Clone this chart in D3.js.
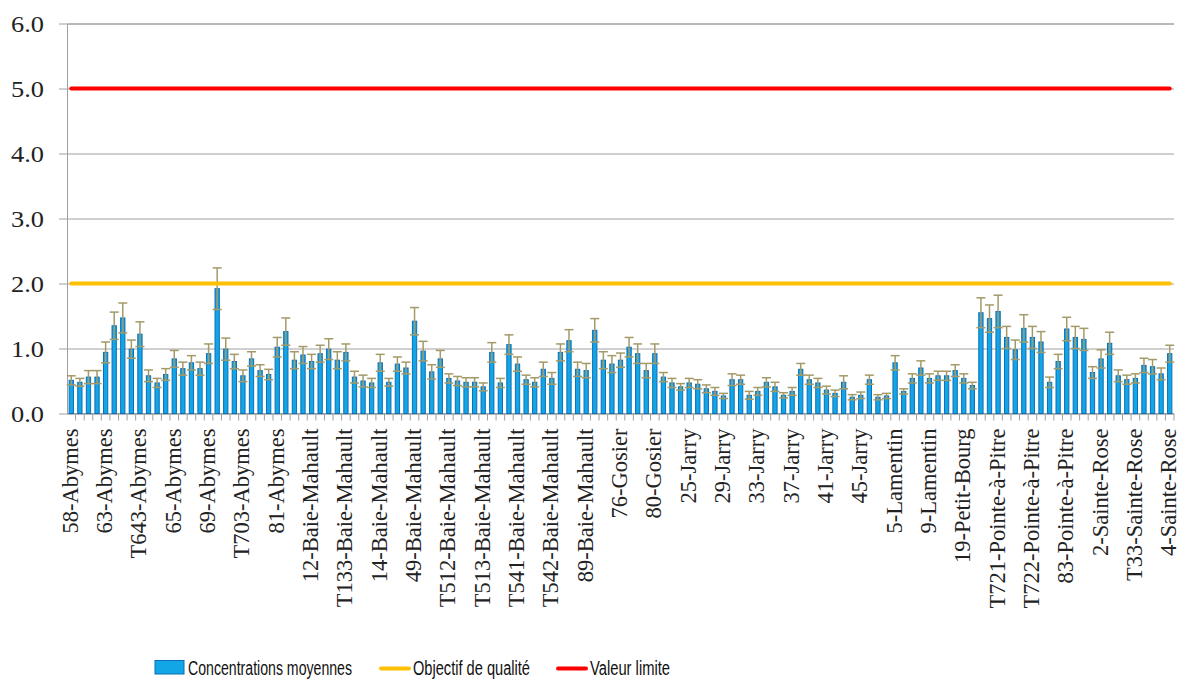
<!DOCTYPE html>
<html>
<head>
<meta charset="utf-8">
<script src="https://cdn.jsdelivr.net/npm/d3@7"></script>
<style>
  body { margin: 0; background: #fff; }
  svg { display: block; }
</style>
</head>
<body>
<div id="chart"></div>
<script>
// station names (only every 4th one is printed on the axis)
var categories = [
  "58-Abymes", "59-Abymes", "60-Abymes", "61-Abymes",
  "63-Abymes", "64-Abymes", "T641-Abymes", "T642-Abymes",
  "T643-Abymes", "T644-Abymes", "T645-Abymes", "T646-Abymes",
  "65-Abymes", "66-Abymes", "67-Abymes", "68-Abymes",
  "69-Abymes", "70-Abymes", "T701-Abymes", "T702-Abymes",
  "T703-Abymes", "T704-Abymes", "79-Abymes", "80-Abymes",
  "81-Abymes", "82-Abymes", "83-Abymes", "84-Abymes",
  "12-Baie-Mahault", "13-Baie-Mahault", "T131-Baie-Mahault", "T132-Baie-Mahault",
  "T133-Baie-Mahault", "T134-Baie-Mahault", "T135-Baie-Mahault", "T136-Baie-Mahault",
  "14-Baie-Mahault", "15-Baie-Mahault", "47-Baie-Mahault", "48-Baie-Mahault",
  "49-Baie-Mahault", "50-Baie-Mahault", "T510-Baie-Mahault", "T511-Baie-Mahault",
  "T512-Baie-Mahault", "51-Baie-Mahault", "52-Baie-Mahault", "53-Baie-Mahault",
  "T513-Baie-Mahault", "54-Baie-Mahault", "55-Baie-Mahault", "T540-Baie-Mahault",
  "T541-Baie-Mahault", "56-Baie-Mahault", "57-Baie-Mahault", "58-Baie-Mahault",
  "T542-Baie-Mahault", "T543-Baie-Mahault", "87-Baie-Mahault", "88-Baie-Mahault",
  "89-Baie-Mahault", "90-Baie-Mahault", "91-Baie-Mahault", "92-Baie-Mahault",
  "76-Gosier", "77-Gosier", "78-Gosier", "79-Gosier",
  "80-Gosier", "81-Gosier", "82-Gosier", "83-Gosier",
  "25-Jarry", "26-Jarry", "27-Jarry", "28-Jarry",
  "29-Jarry", "30-Jarry", "31-Jarry", "32-Jarry",
  "33-Jarry", "34-Jarry", "35-Jarry", "36-Jarry",
  "37-Jarry", "38-Jarry", "39-Jarry", "40-Jarry",
  "41-Jarry", "42-Jarry", "43-Jarry", "44-Jarry",
  "45-Jarry", "46-Jarry", "47-Jarry", "48-Jarry",
  "5-Lamentin", "6-Lamentin", "7-Lamentin", "8-Lamentin",
  "9-Lamentin", "10-Lamentin", "11-Lamentin", "12-Lamentin",
  "19-Petit-Bourg", "20-Petit-Bourg", "21-Petit-Bourg", "22-Petit-Bourg",
  "T721-Pointe-à-Pitre", "T7211-Pointe-à-Pitre", "T7212-Pointe-à-Pitre", "T7213-Pointe-à-Pitre",
  "T722-Pointe-à-Pitre", "T7221-Pointe-à-Pitre", "T7222-Pointe-à-Pitre", "T7223-Pointe-à-Pitre",
  "83-Pointe-à-Pitre", "84-Pointe-à-Pitre", "85-Pointe-à-Pitre", "86-Pointe-à-Pitre",
  "2-Sainte-Rose", "3-Sainte-Rose", "T31-Sainte-Rose", "T32-Sainte-Rose",
  "T33-Sainte-Rose", "T34-Sainte-Rose", "T35-Sainte-Rose", "T36-Sainte-Rose",
  "4-Sainte-Rose"
];

var concentrations = [
  0.51, 0.48, 0.56, 0.56, 0.94, 1.35, 1.47, 0.99, 1.22, 0.58, 0.47, 0.60, 0.84, 0.69, 0.78, 0.69, 0.92, 1.92, 0.99, 0.80, 0.58,
  0.84, 0.66, 0.60, 1.02, 1.26, 0.82, 0.90, 0.80, 0.92, 0.99, 0.82, 0.94, 0.56, 0.50, 0.47, 0.78, 0.48, 0.76, 0.70, 1.42, 0.96,
  0.64, 0.84, 0.54, 0.50, 0.48, 0.48, 0.41, 0.94, 0.47, 1.06, 0.76, 0.52, 0.48, 0.68, 0.54, 0.94, 1.12, 0.68, 0.66, 1.28, 0.82, 0.76,
  0.82, 1.02, 0.92, 0.66, 0.92, 0.56, 0.47, 0.41, 0.47, 0.45, 0.38, 0.34, 0.27, 0.52, 0.52, 0.28, 0.34, 0.48, 0.41, 0.28, 0.34,
  0.68, 0.52, 0.47, 0.36, 0.31, 0.48, 0.25, 0.28, 0.52, 0.25, 0.27, 0.78, 0.34, 0.54, 0.70, 0.54, 0.58, 0.58, 0.66, 0.54, 0.43,
  1.55, 1.46, 1.57, 1.17, 0.98, 1.31, 1.17, 1.10, 0.48, 0.80, 1.30, 1.17, 1.14, 0.63, 0.84, 1.08, 0.58, 0.52, 0.54, 0.74, 0.72, 0.61, 0.92
];

// half length of each error bar
var errors = [
  0.07, 0.06, 0.10, 0.10, 0.16, 0.21, 0.23, 0.14, 0.19, 0.09, 0.07, 0.09, 0.13, 0.10, 0.11, 0.10, 0.15, 0.32, 0.17, 0.11, 0.09,
  0.11, 0.09, 0.08, 0.15, 0.21, 0.13, 0.13, 0.11, 0.13, 0.16, 0.13, 0.13, 0.09, 0.09, 0.07, 0.13, 0.06, 0.11, 0.09, 0.21, 0.15,
  0.11, 0.13, 0.07, 0.07, 0.07, 0.07, 0.06, 0.15, 0.07, 0.15, 0.11, 0.07, 0.07, 0.11, 0.09, 0.13, 0.17, 0.11, 0.11, 0.18, 0.13, 0.13,
  0.11, 0.15, 0.15, 0.11, 0.15, 0.07, 0.07, 0.05, 0.07, 0.07, 0.06, 0.06, 0.04, 0.09, 0.07, 0.06, 0.06, 0.07, 0.07, 0.04, 0.06,
  0.09, 0.07, 0.07, 0.06, 0.05, 0.10, 0.04, 0.05, 0.07, 0.04, 0.04, 0.11, 0.04, 0.07, 0.11, 0.07, 0.07, 0.07, 0.09, 0.07, 0.05,
  0.23, 0.21, 0.25, 0.17, 0.15, 0.21, 0.17, 0.16, 0.08, 0.11, 0.18, 0.17, 0.17, 0.09, 0.14, 0.17, 0.09, 0.07, 0.07, 0.11, 0.11, 0.09, 0.13
];

var objectifQualite = 2.0;
var valeurLimite = 5.0;
var yTicks = [0, 1, 2, 3, 4, 5, 6];

function init() {
    var w = 1180;
    var h = 680;
    var left = 67, right = 1174, top = 23.5, bottom = 413.5;

    var svg = d3.select("#chart")
        .append("svg")
        .attr("width", w)
        .attr("height", h);

    var x = d3.scaleBand()
        .domain(categories)
        .range([left, right])
        .paddingInner(0.5)
        .paddingOuter(0.25);

    var y = d3.scaleLinear()
        .domain([0, 6])
        .range([bottom, top]);

    // gridlines + y axis
    var yAxis = d3.axisLeft(y)
        .tickValues(yTicks)
        .tickSize(-(right - left))
        .tickPadding(24)
        .tickFormat(d3.format(".1f"));

    var gy = svg.append("g")
        .attr("transform", "translate(" + left + ",0)")
        .call(yAxis);
    gy.select(".domain").attr("stroke", "#a0a0a0");
    gy.selectAll(".tick line")
        .attr("stroke", "#a0a0a0")
        .attr("x1", -8);
    gy.selectAll(".tick text")
        .attr("font-family", "'Liberation Serif', 'Times New Roman', serif")
        .attr("font-size", 23)
        .attr("fill", "#222")
        .attr("dy", "0.34em")
        .attr("x", -56)
        .attr("text-anchor", "start")
        .attr("textLength", 33)
        .attr("lengthAdjust", "spacingAndGlyphs");

    // x axis: ticks between categories, labels every 4th station
    var step = x.step();
    svg.append("line")
        .attr("x1", left).attr("x2", right)
        .attr("y1", bottom).attr("y2", bottom)
        .attr("stroke", "#a0a0a0");

    svg.append("g")
        .selectAll("line")
        .data(categories)
        .enter()
        .append("line")
        .attr("x1", function(d) { return x(d) + x.bandwidth() / 2 + step / 2; })
        .attr("x2", function(d) { return x(d) + x.bandwidth() / 2 + step / 2; })
        .attr("y1", bottom)
        .attr("y2", bottom + 7)
        .attr("stroke", "#a0a0a0");

    svg.append("g")
        .selectAll("text")
        .data(categories.filter(function(d, i) { return i % 4 === 0; }))
        .enter()
        .append("text")
        .text(function(d) { return d; })
        .attr("font-family", "'Liberation Serif', 'Times New Roman', serif")
        .attr("font-size", 22.5)
        .attr("fill", "#222")
        .attr("text-anchor", "end")
        .attr("transform", function(d) {
            return "translate(" + (x(d) + x.bandwidth() / 2 + 6.5) + "," + (bottom + 15) + ") rotate(-90)";
        });

    // bars
    svg.append("g")
        .selectAll("rect")
        .data(concentrations)
        .enter()
        .append("rect")
        .attr("x", function(d, i) { return x(categories[i]); })
        .attr("y", function(d) { return y(d); })
        .attr("width", x.bandwidth())
        .attr("height", function(d) { return bottom - y(d); })
        .attr("fill", "#12a6e6")
        .attr("stroke", "#0a6fb8")
        .attr("stroke-width", 1);

    // error bars
    var eb = svg.append("g")
        .attr("stroke", "#a39a68")
        .attr("stroke-width", 1.5);
    var cx = function(i) { return x(categories[i]) + x.bandwidth() / 2; };
    eb.selectAll(".v")
        .data(concentrations)
        .enter()
        .append("line")
        .attr("x1", function(d, i) { return cx(i); })
        .attr("x2", function(d, i) { return cx(i); })
        .attr("y1", function(d, i) { return y(d + errors[i]); })
        .attr("y2", function(d, i) { return y(d - errors[i]); });
    eb.selectAll(".top")
        .data(concentrations)
        .enter()
        .append("line")
        .attr("x1", function(d, i) { return cx(i) - 4.5; })
        .attr("x2", function(d, i) { return cx(i) + 4.5; })
        .attr("y1", function(d, i) { return y(d + errors[i]); })
        .attr("y2", function(d, i) { return y(d + errors[i]); });
    eb.selectAll(".bot")
        .data(concentrations)
        .enter()
        .append("line")
        .attr("x1", function(d, i) { return cx(i) - 4.5; })
        .attr("x2", function(d, i) { return cx(i) + 4.5; })
        .attr("y1", function(d, i) { return y(d - errors[i]); })
        .attr("y2", function(d, i) { return y(d - errors[i]); });

    // reference lines
    var lineGen = d3.line()
        .x(function(d, i) { return cx(i); })
        .y(function(d) { return y(d); });

    svg.append("path")
        .datum(categories.map(function() { return objectifQualite; }))
        .attr("d", lineGen)
        .attr("fill", "none")
        .attr("stroke", "#ffc000")
        .attr("stroke-width", 4)
        .attr("stroke-linecap", "round");

    svg.append("path")
        .datum(categories.map(function() { return valeurLimite; }))
        .attr("d", lineGen)
        .attr("fill", "none")
        .attr("stroke", "#ff0000")
        .attr("stroke-width", 4)
        .attr("stroke-linecap", "round");

    // legend
    var lg = svg.append("g")
        .attr("font-family", "'Liberation Sans', Arial, sans-serif")
        .attr("font-size", 20)
        .attr("fill", "#111");

    lg.append("rect")
        .attr("x", 155).attr("y", 660.5)
        .attr("width", 29).attr("height", 13.5)
        .attr("fill", "#12a6e6")
        .attr("stroke", "#0a6fb8");
    lg.append("text")
        .attr("x", 188).attr("y", 674.5)
        .attr("textLength", 164).attr("lengthAdjust", "spacingAndGlyphs")
        .text("Concentrations moyennes");

    lg.append("line")
        .attr("x1", 381).attr("x2", 409)
        .attr("y1", 668.5).attr("y2", 668.5)
        .attr("stroke", "#ffc000").attr("stroke-width", 4)
        .attr("stroke-linecap", "round");
    lg.append("text")
        .attr("x", 413).attr("y", 674.5)
        .attr("textLength", 117).attr("lengthAdjust", "spacingAndGlyphs")
        .text("Objectif de qualité");

    lg.append("line")
        .attr("x1", 558).attr("x2", 586)
        .attr("y1", 668.5).attr("y2", 668.5)
        .attr("stroke", "#ff0000").attr("stroke-width", 4)
        .attr("stroke-linecap", "round");
    lg.append("text")
        .attr("x", 590).attr("y", 674.5)
        .attr("textLength", 80).attr("lengthAdjust", "spacingAndGlyphs")
        .text("Valeur limite");
}
window.onload = init;
</script>
</body>
</html>
